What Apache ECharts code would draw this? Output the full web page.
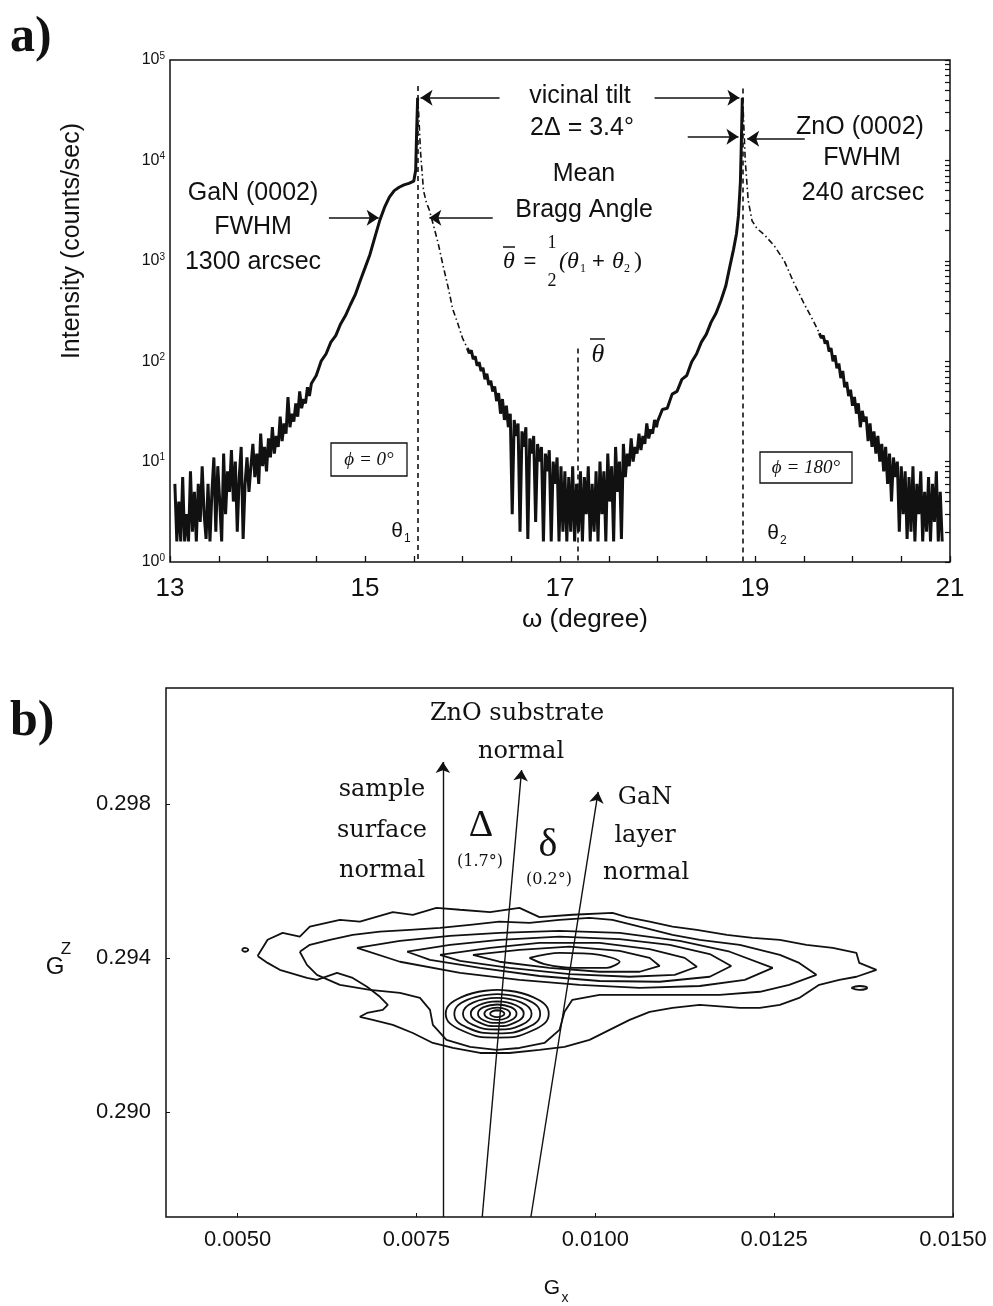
<!DOCTYPE html>
<html>
<head>
<meta charset="utf-8">
<title>Rocking curves and reciprocal space map</title>
<script src="https://cdn.jsdelivr.net/npm/echarts@6/dist/echarts.min.js"></script>
<style>
html, body { margin: 0; background: #fff; }
#main { width: 993px; height: 1306px; }
</style>
</head>
<body>
<div id="main"></div>
<script>
// panel a) omega scans, intensity in counts/sec
var omegaGaN = [13.05,13.07,13.09,13.11,13.13,13.15,13.17,13.19,13.21,13.23,13.25,13.27,13.29,13.31,13.33,13.35,13.37,13.39,13.41,13.43,
    13.45,13.47,13.49,13.51,13.53,13.55,13.57,13.59,13.61,13.63,13.65,13.67,13.69,13.71,13.73,13.75,13.77,13.79,13.81,13.83,
    13.85,13.87,13.89,13.91,13.93,13.95,13.97,13.99,14.01,14.03,14.05,14.07,14.09,14.11,14.13,14.15,14.17,14.19,14.21,14.23,
    14.25,14.27,14.29,14.31,14.33,14.35,14.37,14.39,14.41,14.43,14.45,
    14.50,14.55,14.60,14.65,14.70,14.75,14.80,14.85,14.90,14.95,15.00,15.05,15.10,15.15,15.20,15.25,15.30,15.35,15.40,15.45,15.50,
    15.52,15.53,15.54];
var intenGaN = [6,1.6,4,1.6,7,1.6,3,1.6,8,2,5,1.6,6,2.5,9,3,1.7,6,1.6,5,
    11,2,9,4,1.6,12,3,8,5,13,4,10,2,7,14,1.7,6,11,5,9,
    15,7,12,6,19,9,14,8,17,11,22,12,18,14,28,16,24,19,44,22,
    30,25,38,28,50,34,42,38,55,45,60,
    72,100,118,155,180,235,285,365,460,630,850,1150,1700,2500,3400,4300,5000,5400,5700,5900,6200,
    8000,20000,42000];

var omegaTail1 = [15.54,15.55,15.57,15.60,15.63,15.66,15.70,15.75,15.80,15.85,15.90,15.95,16.00,16.05];
var intenTail1 = [42000,30000,12000,5000,3800,3200,2300,1500,900,560,330,240,170,135];

var omegaMid = [16.05,16.07,16.09,16.11,16.13,16.15,16.17,16.19,16.21,16.23,16.25,16.27,16.29,16.31,16.33,16.35,16.37,16.39,16.41,16.43,
    16.45,16.47,16.49,16.51,16.53,16.55,16.57,16.59,16.61,16.63,16.65,16.67,16.69,16.71,16.73,16.75,16.77,16.79,16.81,16.83,
    16.85,16.87,16.89,16.91,16.93,16.95,16.97,16.99,17.01,17.03,17.05,17.07,17.09,17.11,17.13,17.15,17.17,17.19,17.21,17.23,
    17.25,17.27,17.29,17.31,17.33,17.35,17.37,17.39,17.41,17.43,17.45,17.47,17.49,17.51,17.53,17.55,17.57,17.59,17.61,17.63,
    17.65,17.67,17.69,17.71,17.73,17.75,17.77,17.79,17.81,17.83,17.85,17.87,17.89,17.91,17.93,17.95,17.97,17.99,
    18.00,18.05,18.10,18.15,18.20,18.25,18.30,18.35,18.40,18.45,18.50,18.55,18.60,18.65,18.70,18.74,18.78,18.81,18.83,18.85,18.86,18.87];
var intenMid = [135,120,128,105,112,90,98,80,86,66,75,58,64,50,56,40,48,30,42,26,
    36,22,30,3,26,18,24,2,20,14,22,1.7,17,12,18,2.5,15,10,14,1.6,
    12,8,13,1.6,10,6,11,1.6,9,2,8,1.6,7,2,9,1.6,6,2,8,1.6,
    7,3,9,1.6,6,2,8,1.6,10,3,8,1.6,12,4,9,1.6,14,5,10,1.7,
    15,7,12,9,17,10,14,12,19,13,18,15,24,17,21,19,26,22,
    25,33,34,47,50,66,72,98,118,155,185,245,300,400,560,860,1300,1860,2800,6000,15000,42000];

var omegaTail2 = [18.87,18.88,18.90,18.93,18.97,19.02,19.10,19.20,19.30,19.40,19.50,19.60,19.66];
var intenTail2 = [42000,30000,10000,4000,2500,2100,1800,1400,1000,600,380,250,190];

var omegaEnd = [19.66,19.68,19.70,19.72,19.74,19.76,19.78,19.80,19.82,19.84,19.86,19.88,19.90,19.92,19.94,19.96,19.98,20.00,20.02,20.04,
    20.06,20.08,20.10,20.12,20.14,20.16,20.18,20.20,20.22,20.24,20.26,20.28,20.30,20.32,20.34,20.36,20.38,20.40,20.42,20.44,
    20.46,20.48,20.50,20.52,20.54,20.56,20.58,20.60,20.62,20.64,20.66,20.68,20.70,20.72,20.74,20.76,20.78,20.80,20.82,20.84,
    20.86,20.88,20.90,20.92];
var intenEnd = [190,170,180,150,160,125,135,100,115,85,95,68,80,55,62,45,52,36,44,30,
    38,22,32,25,28,16,24,14,20,12,18,10,15,8,14,6,12,4,11,7,
    10,2,9,3,8,1.7,7,2,9,1.6,6,3,8,1.6,5,2,7,1.6,6,2.5,
    8,1.6,5,1.6];

var omegaTicks = [13,15,17,19,21];
var omegaMinor = [13,13.5,14,14.5,15,15.5,16,16.5,17,17.5,18,18.5,19,19.5,20,20.5,21];
var intenTicks = [1,10,100,1000,10000,100000];

// theta1, theta2 and mean angle markers [omega, top intensity]
var thetaLines = [[15.54, 55000], [18.87, 52000], [17.18, 134]];
var topArrows = [
    [[16.38, 42000], [15.57, 42000]],
    [[17.97, 42000], [18.84, 42000]],
    [[18.31, 17200], [18.83, 17200]],
    [[19.51, 16400], [18.92, 16400]],
    [[16.31, 2690], [15.66, 2690]],
    [[14.63, 2690], [15.14, 2690]]
];

// panel b) reciprocal space map contours [Gx, Gz]
var contourOuter = [[0.00528,0.29405],[0.00542,0.29447],[0.00563,0.29465],[0.00587,0.29455],[0.00601,0.29481],[0.00643,0.29499],
    [0.00671,0.29494],[0.00717,0.29519],[0.00745,0.29512],[0.00778,0.29530],[0.00811,0.29525],[0.00853,0.29519],[0.00894,0.29530],
    [0.00922,0.29506],[0.00968,0.29512],[0.01024,0.29517],[0.01044,0.29506],[0.01076,0.29494],[0.01108,0.29481],[0.01142,0.29473],
    [0.01184,0.29460],[0.01220,0.29452],[0.01258,0.29447],[0.01295,0.29434],[0.01332,0.29426],[0.01365,0.29413],[0.01369,0.29387],
    [0.01393,0.29369],[0.01365,0.29351],[0.01341,0.29343],[0.01313,0.29330],[0.01285,0.29296],[0.01258,0.29278],[0.01230,0.29270],
    [0.01202,0.29270],[0.01146,0.29278],[0.01108,0.29270],[0.01076,0.29260],[0.01048,0.29239],[0.01020,0.29213],[0.00992,0.29187],
    [0.00957,0.29169],[0.00922,0.29161],[0.00880,0.29153],[0.00839,0.29153],[0.00801,0.29166],[0.00773,0.29179],[0.00745,0.29205],
    [0.00717,0.29226],[0.00689,0.29239],[0.00671,0.29247],[0.00681,0.29257],[0.00703,0.29265],[0.00710,0.29278],[0.00699,0.29299],
    [0.00681,0.29325],[0.00661,0.29348],[0.00639,0.29361],[0.00611,0.29343],[0.00597,0.29348],[0.00559,0.29369],[0.00542,0.29387],
    [0.00528,0.29405]];
var contourNeck = [[0.00587,0.29416],[0.00601,0.29434],[0.00629,0.29447],[0.00661,0.29460],[0.00699,0.29468],[0.00741,0.29473],
    [0.00783,0.29478],[0.00825,0.29486],[0.00866,0.29494],[0.00908,0.29491],[0.00950,0.29499],[0.00992,0.29504],[0.01024,0.29499],
    [0.01062,0.29481],[0.01108,0.29460],[0.01146,0.29447],[0.01202,0.29434],[0.01258,0.29408],[0.01285,0.29387],[0.01309,0.29356],
    [0.01271,0.29330],[0.01230,0.29312],[0.01174,0.29304],[0.01118,0.29304],[0.01062,0.29304],[0.01006,0.29304],[0.00968,0.29291],
    [0.00957,0.29260],[0.00950,0.29213],[0.00929,0.29179],[0.00894,0.29166],[0.00862,0.29161],[0.00825,0.29169],[0.00792,0.29187],
    [0.00773,0.29226],[0.00769,0.29265],[0.00755,0.29296],[0.00727,0.29309],[0.00685,0.29317],[0.00643,0.29330],[0.00611,0.29356],
    [0.00597,0.29382],[0.00587,0.29416]];
var upper3 = [[0.00667,0.29426],[0.00727,0.29444],[0.00797,0.29457],[0.00866,0.29465],[0.00950,0.29470],[0.01034,0.29465],
    [0.01118,0.29444],[0.01188,0.29416],[0.01248,0.29374],[0.01209,0.29343],[0.01146,0.29327],[0.01062,0.29322],[0.00978,0.29330],
    [0.00894,0.29343],[0.00811,0.29361],[0.00727,0.29390],[0.00667,0.29426]];
var upper4 = [[0.00737,0.29416],[0.00797,0.29434],[0.00866,0.29447],[0.00950,0.29455],[0.01034,0.29449],[0.01104,0.29434],
    [0.01160,0.29410],[0.01190,0.29379],[0.01160,0.29351],[0.01090,0.29338],[0.01006,0.29340],[0.00922,0.29353],[0.00839,0.29374],
    [0.00769,0.29395],[0.00737,0.29416]];
var upper5 = [[0.00783,0.29408],[0.00853,0.29426],[0.00922,0.29439],[0.01006,0.29439],[0.01076,0.29423],[0.01125,0.29400],
    [0.01142,0.29377],[0.01111,0.29356],[0.01048,0.29351],[0.00964,0.29358],[0.00880,0.29374],[0.00811,0.29392],[0.00783,0.29408]];
var upper6 = [[0.00829,0.29408],[0.00894,0.29421],[0.00964,0.29429],[0.01034,0.29418],[0.01076,0.29400],[0.01090,0.29379],
    [0.01062,0.29364],[0.01006,0.29364],[0.00936,0.29374],[0.00866,0.29390],[0.00829,0.29408]];
var upper7 = [[0.00908,0.29400],[0.00950,0.29413],[0.01006,0.29408],[0.01034,0.29390],[0.01016,0.29374],[0.00971,0.29374],
    [0.00929,0.29384],[0.00908,0.29400]];
var lower1 = [[0.00863,0.29317],[0.00913,0.29298],[0.00935,0.29255],[0.00913,0.29212],[0.00863,0.29193],[0.00813,0.29212],[0.00791,0.29255],[0.00813,0.29298],[0.00863,0.29317]];
var lower2 = [[0.00863,0.29306],[0.00905,0.29291],[0.00923,0.29255],[0.00905,0.29219],[0.00863,0.29204],[0.00821,0.29219],[0.00803,0.29255],[0.00821,0.29291],[0.00863,0.29306]];
var lower3 = [[0.00863,0.29296],[0.00897,0.29284],[0.00911,0.29255],[0.00897,0.29226],[0.00863,0.29214],[0.00829,0.29226],[0.00815,0.29255],[0.00829,0.29284],[0.00863,0.29296]];
var lower4 = [[0.00863,0.29287],[0.00889,0.29277],[0.00900,0.29255],[0.00889,0.29233],[0.00863,0.29223],[0.00837,0.29233],[0.00826,0.29255],[0.00837,0.29277],[0.00863,0.29287]];
var lower5 = [[0.00863,0.29279],[0.00882,0.29272],[0.00890,0.29255],[0.00882,0.29238],[0.00863,0.29231],[0.00844,0.29238],[0.00836,0.29255],[0.00844,0.29272],[0.00863,0.29279]];
var lower6 = [[0.00863,0.29271],[0.00876,0.29266],[0.00881,0.29255],[0.00876,0.29244],[0.00863,0.29239],[0.00850,0.29244],[0.00845,0.29255],[0.00850,0.29266],[0.00863,0.29271]];
var lower7 = [[0.00863,0.29264],[0.00870,0.29261],[0.00873,0.29255],[0.00870,0.29249],[0.00863,0.29246],[0.00856,0.29249],[0.00853,0.29255],[0.00856,0.29261],[0.00863,0.29264]];
var islandLeft = [[0.00506,0.29421],[0.00510,0.29426],[0.00515,0.29421],[0.00510,0.29416],[0.00506,0.29421]];
var islandRight = [[0.01358,0.29322],[0.01369,0.29327],[0.01380,0.29322],[0.01369,0.29317],[0.01358,0.29322]];

var gxTicks = [0.005, 0.0075, 0.01, 0.0125, 0.015];
var gzTicks = [0.290, 0.294, 0.298];

// surface, substrate and layer normals
var normals = [
    [[0.00787, 0.28727], [0.00787, 0.29909]],
    [[0.00842, 0.28727], [0.00897, 0.29888]],
    [[0.00910, 0.28727], [0.01004, 0.29831]]
];

var sans = '"Liberation Sans", Arial, Helvetica, sans-serif';
var serif = '"DejaVu Serif", "Liberation Serif", serif';
var ink = '#111';

function pairs(xs, ys) {
    return xs.map(function (x, i) { return [x, ys[i]]; });
}

var logTicks = [];
[1, 10, 100, 1000, 10000].forEach(function (d) {
    for (var m = 1; m < 10; m++) logTicks.push(m * d);
});
logTicks.push(100000);

var myChart = echarts.init(document.getElementById('main'));

function scan(xs, ys, dash, width) {
    return {
        type: 'line', xAxisIndex: 0, yAxisIndex: 0,
        data: pairs(xs, ys), showSymbol: false, symbol: 'none', silent: true,
        lineStyle: { color: ink, width: width, type: dash }
    };
}

function contour(pts, smooth) {
    return {
        type: 'line', xAxisIndex: 1, yAxisIndex: 2,
        data: pts, showSymbol: false, symbol: 'none', silent: true,
        smooth: smooth || false,
        lineStyle: { color: ink, width: 1.8 }
    };
}

function label(x, y, text, font, align) {
    return {
        type: 'text', x: x, y: y, z: 100,
        style: { text: text, font: font, fill: ink, textAlign: align || 'center', textVerticalAlign: 'middle' }
    };
}

function hline(x1, y1, x2, y2, w) {
    return { type: 'line', z: 100, shape: { x1: x1, y1: y1, x2: x2, y2: y2 }, style: { stroke: ink, lineWidth: w || 1.3 } };
}

var f22 = '25px ' + sans;
var graphics = [
    label(10, 38, 'a)', 'bold 50px "Liberation Serif", serif', 'left'),
    label(10, 722, 'b)', 'bold 50px "Liberation Serif", serif', 'left'),
    { type: 'text', x: 72, y: 241, rotation: Math.PI / 2, z: 100,
      style: { text: 'Intensity (counts/sec)', font: '25px ' + sans, fill: ink, textAlign: 'center', textVerticalAlign: 'middle' } },
    label(585, 620, 'ω (degree)', '26px ' + sans),
    label(580, 96, 'vicinal tilt', f22),
    label(582, 128, '2Δ = 3.4°', f22),
    label(584, 174, 'Mean', f22),
    label(584, 210, 'Bragg Angle', f22),
    label(253, 193, 'GaN (0002)', f22),
    label(253, 227, 'FWHM', f22),
    label(253, 262, '1300 arcsec', f22),
    label(860, 127, 'ZnO (0002)', f22),
    label(862, 158, 'FWHM', f22),
    label(863, 193, '240 arcsec', f22),
    // mean Bragg angle formula
    label(509, 262, 'θ', 'italic 24px "Liberation Serif", serif'),
    hline(503, 247, 515, 247, 1.5),
    label(530, 262, '=', '22px ' + sans),
    label(552, 243, '1', '18px "Liberation Serif", serif'),
    label(552, 281, '2', '18px "Liberation Serif", serif'),
    label(559, 262, '(θ', 'italic 24px "Liberation Serif", serif', 'left'),
    label(580, 269, '1', '12px "Liberation Serif", serif', 'left'),
    label(592, 262, '+', '22px ' + sans, 'left'),
    label(612, 262, 'θ', 'italic 24px "Liberation Serif", serif', 'left'),
    label(624, 269, '2', '12px "Liberation Serif", serif', 'left'),
    label(634, 262, ')', '24px "Liberation Serif", serif', 'left'),
    // phi boxes
    { type: 'rect', z: 100, shape: { x: 331, y: 443, width: 76, height: 33 }, style: { fill: '#fff', stroke: ink, lineWidth: 1.3 } },
    label(369, 460, 'ϕ = 0°', 'italic 19px "Liberation Serif", serif'),
    { type: 'rect', z: 100, shape: { x: 760, y: 452, width: 92, height: 31 }, style: { fill: '#fff', stroke: ink, lineWidth: 1.3 } },
    label(806, 468, 'ϕ = 180°', 'italic 19px "Liberation Serif", serif'),
    // theta labels
    label(397, 531, 'θ', '21px ' + sans),
    label(404, 539, '1', '12px ' + sans, 'left'),
    label(773, 533, 'θ', '21px ' + sans),
    label(780, 541, '2', '12px ' + sans, 'left'),
    label(598, 355, 'θ', 'italic 26px "Liberation Serif", serif'),
    hline(590, 339, 605, 339, 1.5),
    // panel b texts
    label(517, 714, 'ZnO substrate', '24px ' + serif),
    label(521, 752, 'normal', '24px ' + serif),
    label(382, 790, 'sample', '24px ' + serif),
    label(382, 831, 'surface', '24px ' + serif),
    label(382, 871, 'normal', '24px ' + serif),
    label(481, 826, 'Δ', '38px "Liberation Serif", serif'),
    label(480, 862, '(1.7°)', '16px ' + serif),
    label(548, 845, 'δ', '40px "Liberation Serif", serif'),
    label(549, 880, '(0.2°)', '16px ' + serif),
    label(645, 798, 'GaN', '24px ' + serif),
    label(645, 836, 'layer', '24px ' + serif),
    label(646, 873, 'normal', '24px ' + serif),
    // axis names of panel b
    label(55, 967, 'G', '24px ' + sans),
    label(66, 949, 'Z', '17px ' + sans),
    label(552, 1288, 'G', '21px ' + sans),
    label(565, 1298, 'x', '14px ' + sans)
];

var option = {
    animation: false,
    backgroundColor: '#fff',
    graphic: graphics,
    grid: [
        { left: 170, top: 60, width: 780, height: 502, show: true, borderColor: ink, borderWidth: 1.5, backgroundColor: 'transparent' },
        { left: 166, top: 688, width: 787, height: 529, show: true, borderColor: ink, borderWidth: 1.5, backgroundColor: 'transparent' }
    ],
    xAxis: [
        {
            gridIndex: 0, type: 'value', min: 13, max: 21,
            axisLine: { show: false }, splitLine: { show: false },
            axisTick: { show: true, inside: true, length: 6, customValues: omegaMinor, lineStyle: { color: ink, width: 1.3 } },
            axisLabel: { customValues: omegaTicks, color: ink, fontFamily: sans, fontSize: 26, margin: 14 }
        },
        {
            gridIndex: 1, type: 'value', min: 0.004, max: 0.015,
            axisLine: { show: false }, splitLine: { show: false },
            axisTick: { show: true, inside: true, length: 4, customValues: gxTicks, lineStyle: { color: ink } },
            axisLabel: {
                customValues: gxTicks, color: ink, fontFamily: sans, fontSize: 22, margin: 12,
                formatter: function (v) { return v.toFixed(4); }
            }
        }
    ],
    yAxis: [
        {
            gridIndex: 0, type: 'log', logBase: 10, min: 1, max: 100000,
            axisLine: { show: false }, splitLine: { show: false },
            axisTick: { show: false },
            axisLabel: {
                customValues: intenTicks, color: ink, fontFamily: sans, fontSize: 16, margin: 5,
                formatter: function (v) { return '10{e|' + Math.round(Math.log10(v)) + '}'; },
                rich: { e: { fontSize: 10, fontFamily: sans, color: ink, verticalAlign: 'top', padding: [0, 0, 8, 0] } }
            }
        },
        {
            gridIndex: 0, type: 'log', logBase: 10, min: 1, max: 100000, position: 'right',
            axisLine: { show: false }, splitLine: { show: false }, axisLabel: { show: false },
            axisTick: { show: true, inside: true, length: 5, customValues: logTicks, lineStyle: { color: ink, width: 1.2 } }
        },
        {
            gridIndex: 1, type: 'value', min: 0.28727, max: 0.30101,
            axisLine: { show: false }, splitLine: { show: false },
            axisTick: { show: true, inside: true, length: 4, customValues: gzTicks, lineStyle: { color: ink } },
            axisLabel: {
                customValues: gzTicks, color: ink, fontFamily: sans, fontSize: 22, margin: 15,
                formatter: function (v) { return v.toFixed(3); }
            }
        }
    ],
    series: [
        scan(omegaGaN, intenGaN, 'solid', 3),
        scan(omegaTail1, intenTail1, [6, 3, 1.5, 3], 1.6),
        scan(omegaMid, intenMid, 'solid', 3),
        scan(omegaTail2, intenTail2, [6, 3, 1.5, 3], 1.6),
        scan(omegaEnd, intenEnd, 'solid', 3),
        {
            type: 'lines', coordinateSystem: 'cartesian2d', xAxisIndex: 0, yAxisIndex: 0, silent: true,
            symbol: 'none',
            lineStyle: { color: ink, width: 1.6, type: [5, 4], opacity: 1 },
            data: thetaLines.map(function (t) { return { coords: [[t[0], t[1]], [t[0], 1]] }; })
        },
        {
            type: 'lines', coordinateSystem: 'cartesian2d', xAxisIndex: 0, yAxisIndex: 0, silent: true,
            symbol: ['none', 'arrow'], symbolSize: 12,
            lineStyle: { color: ink, width: 1.5, opacity: 1 },
            data: topArrows.map(function (a) { return { coords: a }; })
        },
        contour(contourOuter),
        contour(contourNeck),
        contour(upper3),
        contour(upper4),
        contour(upper5),
        contour(upper6),
        contour(upper7, 0.3),
        contour(lower1, 0.5),
        contour(lower2, 0.5),
        contour(lower3, 0.5),
        contour(lower4, 0.5),
        contour(lower5, 0.5),
        contour(lower6, 0.5),
        contour(lower7, 0.5),
        contour(islandLeft, 0.5),
        contour(islandRight, 0.5),
        {
            type: 'lines', coordinateSystem: 'cartesian2d', xAxisIndex: 1, yAxisIndex: 2, silent: true,
            symbol: ['none', 'arrow'], symbolSize: 11,
            lineStyle: { color: ink, width: 1.4, opacity: 1 },
            data: normals.map(function (a) { return { coords: a }; })
        }
    ]
};

myChart.setOption(option);
window.onresize = function () { myChart.resize(); };
</script>
</body>
</html>
